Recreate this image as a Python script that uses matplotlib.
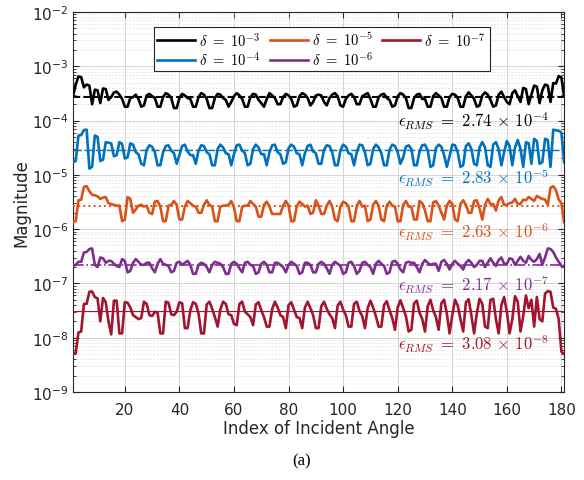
import numpy as np
import matplotlib
matplotlib.use("Agg")
import matplotlib.pyplot as plt
import matplotlib.ticker as ticker
from matplotlib.font_manager import FontProperties

# Error magnitude against incident-angle index (1..181) for each step size delta.
# Each list is written in units of the matching entry in `scales`.
err_d3 = [
    2.8, 4.6, 6.5, 6.3, 4.1, 4.6, 4.4, 2.0, 3.7, 3.6,
    2.1, 3.9, 3.8, 2.4, 2.7, 3.3, 3.4, 3.0, 2.5, 1.8,
    1.8, 2.6, 2.7, 3.0, 2.5, 1.8, 1.9, 2.9, 3.1, 2.8,
    2.6, 1.8, 1.8, 2.7, 3.2, 3.0, 2.6, 1.7, 1.7, 2.6,
    3.1, 2.9, 2.6, 2.5, 1.8, 1.8, 2.7, 3.2, 3.0, 2.5,
    1.7, 1.7, 2.6, 3.1, 3.0, 2.6, 2.4, 1.8, 2.2, 2.8,
    3.2, 2.9, 2.5, 1.8, 1.8, 2.7, 3.1, 3.0, 2.4, 2.1,
    1.8, 2.5, 3.2, 2.9, 2.6, 2.0, 2.0, 2.7, 3.1, 2.9,
    2.5, 1.8, 1.9, 2.8, 3.2, 3.0, 2.6, 1.9, 2.2, 2.9,
    3.0, 2.9, 2.2, 1.9, 2.6, 3.0, 3.2, 2.8, 1.9, 1.8,
    2.5, 2.9, 3.1, 2.7, 2.0, 2.0, 2.8, 3.0, 3.2, 2.5,
    1.8, 1.8, 2.7, 3.0, 3.1, 2.6, 2.4, 1.8, 1.9, 2.8,
    3.2, 3.0, 2.6, 1.7, 1.7, 2.6, 3.0, 3.1, 2.5, 2.5,
    1.8, 1.8, 2.8, 3.2, 2.9, 2.6, 1.8, 1.8, 2.7, 3.1,
    3.0, 2.6, 1.8, 1.8, 2.8, 3.3, 2.9, 2.5, 1.8, 1.9,
    2.9, 3.3, 3.0, 2.4, 1.8, 1.9, 3.0, 3.4, 2.7, 2.2,
    2.0, 3.2, 3.6, 2.8, 2.2, 4.0, 3.8, 2.0, 3.0, 4.4,
    4.2, 2.1, 3.6, 4.6, 4.4, 2.2, 4.9, 4.8, 6.6, 6.2, 2.8,
]
err_d4 = [
    1.7, 1.8, 5.3, 5.4, 6.7, 6.8, 1.3, 1.4, 5.3, 5.0,
    1.8, 1.9, 4.0, 3.9, 3.8, 2.2, 2.3, 4.0, 3.7, 2.0,
    2.1, 3.8, 3.6, 2.6, 2.4, 1.6, 1.5, 2.9, 3.5, 3.3,
    2.6, 1.5, 1.5, 2.6, 3.4, 3.5, 2.8, 2.5, 1.6, 2.3,
    3.4, 3.6, 2.7, 2.3, 2.3, 1.6, 2.8, 3.5, 3.4, 2.6,
    2.4, 1.5, 1.5, 3.0, 3.6, 3.2, 2.5, 2.4, 1.5, 2.4,
    3.5, 3.6, 2.8, 2.5, 1.5, 1.6, 3.0, 3.6, 3.2, 2.4,
    2.4, 1.5, 2.6, 3.5, 3.6, 2.6, 2.4, 1.6, 1.7, 3.1,
    3.6, 3.3, 2.5, 2.4, 1.5, 2.5, 3.4, 3.6, 2.7, 2.5,
    1.6, 1.6, 2.9, 3.5, 3.4, 2.6, 1.5, 1.5, 2.8, 3.6,
    3.3, 2.5, 2.4, 1.5, 2.6, 3.6, 3.5, 2.6, 1.5, 1.6,
    3.0, 3.6, 3.2, 2.5, 1.5, 1.5, 2.9, 3.6, 3.4, 2.6,
    1.6, 2.1, 3.3, 3.5, 3.0, 1.5, 1.5, 2.7, 3.5, 3.6,
    2.8, 1.4, 1.5, 3.1, 3.6, 3.3, 2.3, 1.4, 2.2, 3.6,
    3.5, 2.6, 1.4, 1.5, 3.4, 3.8, 3.0, 1.6, 1.5, 3.2,
    4.0, 3.2, 1.5, 1.4, 3.6, 4.0, 3.0, 1.5, 2.6, 4.2,
    3.4, 1.5, 3.2, 4.4, 3.0, 1.4, 4.0, 3.8, 1.6, 4.6,
    4.2, 1.6, 1.7, 4.6, 4.4, 1.4, 6.8, 6.6, 6.5, 6.0, 1.7,
]
err_d5 = [
    1.35, 1.4, 3.4, 3.5, 6.0, 6.2, 5.0, 4.3, 4.2, 4.0,
    3.6, 3.8, 3.9, 3.0, 2.9, 2.8, 2.7, 2.7, 1.4, 1.5,
    3.9, 3.6, 2.0, 2.3, 2.7, 2.8, 2.6, 2.7, 2.0, 1.9,
    3.2, 3.3, 2.6, 1.4, 1.4, 2.7, 2.8, 3.3, 2.8, 1.5,
    1.5, 2.6, 3.3, 3.0, 2.7, 2.6, 2.0, 2.0, 2.8, 3.4,
    2.8, 2.6, 1.4, 1.4, 2.6, 2.7, 2.7, 2.8, 3.3, 2.5,
    1.4, 1.4, 2.6, 2.7, 2.7, 3.3, 2.9, 2.6, 1.7, 1.7,
    2.8, 3.2, 2.6, 1.9, 1.9, 1.9, 1.9, 2.7, 3.3, 2.7,
    1.4, 1.4, 2.6, 3.2, 2.9, 2.6, 2.7, 1.9, 2.0, 3.4,
    2.7, 1.9, 1.9, 2.7, 3.3, 2.6, 1.5, 1.4, 2.6, 3.2,
    3.0, 2.6, 1.4, 1.4, 2.7, 3.3, 2.6, 2.7, 1.4, 1.5,
    2.8, 3.3, 2.7, 1.5, 1.4, 2.7, 3.2, 2.7, 2.6, 1.4,
    1.4, 2.8, 3.3, 2.6, 2.6, 1.5, 1.5, 3.3, 3.0, 2.2,
    1.4, 1.4, 3.1, 3.3, 2.7, 2.0, 1.5, 2.7, 3.3, 2.9,
    1.5, 1.4, 2.9, 3.4, 2.8, 2.0, 2.0, 3.3, 3.4, 2.4,
    1.5, 2.8, 3.6, 2.9, 2.9, 2.2, 3.4, 3.9, 2.8, 2.8,
    3.0, 3.1, 3.6, 2.9, 2.9, 3.5, 3.4, 3.9, 3.6, 3.3,
    4.1, 3.8, 3.6, 3.5, 2.8, 5.8, 6.2, 5.2, 3.5, 3.0, 1.35,
]
err_d6 = [
    2.1, 2.2, 2.5, 2.5, 3.7, 3.8, 4.3, 4.4, 2.2, 2.0,
    3.0, 2.9, 2.4, 2.6, 2.6, 2.3, 2.1, 2.0, 2.8, 2.6,
    1.6, 1.7, 2.4, 2.8, 2.5, 2.2, 2.2, 2.4, 2.4, 1.9,
    1.6, 2.3, 2.8, 2.3, 2.2, 2.1, 1.6, 1.7, 2.4, 2.5,
    2.2, 2.4, 2.6, 2.2, 1.5, 1.5, 2.2, 2.4, 2.3, 2.0,
    1.6, 2.2, 2.5, 2.4, 2.3, 2.0, 1.5, 1.5, 2.3, 2.5,
    2.3, 1.9, 1.6, 2.4, 2.5, 2.2, 2.1, 1.5, 1.6, 2.3,
    2.5, 2.2, 1.6, 1.6, 2.4, 2.4, 2.2, 2.0, 1.6, 2.2,
    2.5, 2.3, 2.1, 1.5, 1.6, 2.4, 2.4, 2.2, 1.6, 1.6,
    2.3, 2.5, 2.3, 1.9, 1.5, 2.2, 2.5, 2.3, 2.1, 1.5,
    1.6, 2.4, 2.5, 2.1, 1.5, 1.7, 2.4, 2.5, 2.2, 2.0,
    1.5, 2.3, 2.6, 2.3, 2.1, 1.5, 1.6, 2.5, 2.6, 2.3,
    1.8, 1.6, 2.4, 2.5, 2.4, 2.4, 2.0, 1.6, 2.3, 2.7,
    2.4, 2.2, 2.3, 2.3, 1.7, 2.5, 2.7, 2.3, 1.8, 2.3,
    2.6, 2.3, 2.1, 1.8, 2.4, 2.7, 2.4, 2.0, 2.2, 2.6,
    2.6, 2.0, 2.4, 2.9, 2.4, 2.1, 2.7, 3.0, 2.3, 2.3,
    2.9, 2.8, 2.2, 2.6, 3.1, 2.6, 2.4, 3.2, 2.7, 2.5,
    2.8, 3.5, 2.2, 3.0, 4.4, 4.3, 3.8, 3.0, 2.5, 2.1, 2.0,
]
err_d7 = [
    0.50, 0.52, 1.25, 1.3, 4.2, 4.2, 7.0, 7.1, 5.6, 5.3,
    2.0, 5.4, 4.5, 2.0, 1.15, 4.8, 4.8, 1.2, 1.2, 4.5,
    4.4, 3.6, 2.6, 2.4, 2.2, 2.3, 4.6, 4.2, 2.6, 2.5,
    3.0, 2.9, 1.2, 1.2, 4.6, 4.4, 2.7, 2.6, 3.0, 4.5,
    4.3, 1.5, 1.5, 3.2, 4.5, 4.2, 2.8, 1.2, 1.2, 4.1,
    4.6, 3.4, 2.4, 1.6, 3.3, 4.6, 4.2, 2.7, 2.6, 1.8,
    1.7, 4.2, 4.6, 3.0, 2.7, 2.4, 1.7, 4.1, 4.5, 3.2,
    2.4, 1.6, 1.6, 3.4, 4.6, 3.6, 2.6, 2.4, 1.5, 4.0,
    4.5, 3.3, 2.4, 2.3, 1.5, 3.6, 4.6, 3.5, 2.6, 1.5,
    1.5, 3.8, 4.6, 3.4, 2.7, 2.3, 1.5, 3.9, 4.6, 3.3,
    2.6, 1.6, 1.6, 4.2, 4.6, 3.1, 2.5, 1.5, 3.5, 4.8,
    3.6, 2.5, 1.6, 1.6, 4.0, 4.7, 3.2, 2.3, 1.4, 3.6,
    4.9, 3.5, 2.5, 1.3, 1.4, 4.3, 4.8, 2.9, 2.2, 1.3,
    3.8, 5.0, 3.2, 2.4, 1.4, 4.3, 5.0, 2.8, 1.2, 2.6,
    5.0, 3.9, 2.2, 1.3, 4.5, 5.1, 2.6, 1.2, 2.8, 5.2,
    4.2, 1.6, 1.5, 5.0, 5.2, 2.2, 1.2, 4.0, 5.6, 3.0,
    1.2, 2.2, 5.8, 4.6, 1.3, 2.5, 6.0, 3.5, 5.0, 1.6,
    5.6, 2.2, 2.0, 6.5, 7.2, 7.0, 3.6, 3.4, 2.2, 0.55, 0.50,
]
scales = [1e-4, 1e-5, 1e-6, 1e-7, 1e-8]
delta_exp = [-3, -4, -5, -6, -7]

# RMS error of each curve (mantissa, exponent)
rms_mant = [2.74, 2.83, 2.63, 2.17, 3.08]
rms_exp = [-4, -5, -6, -7, -8]

colors = ['#000000', '#0072BD', '#D95319', '#7E2F8E', '#A2142F']
rms_styles = ['--', (0, (6, 2)), ':', '-.', '-']
rms_widths = [1.4, 1.0, 1.4, 1.2, 0.8]
# where the RMS text sits (right edge x index, y magnitude)
label_pos = [(175.5, 1.0e-4), (175.5, 9.2e-6), (175.5, 9.3e-7), (175.5, 9.8e-8), (175.5, 7.8e-9)]

series = [err_d3, err_d4, err_d5, err_d6, err_d7]
for s in series:
    assert len(s) == 181, len(s)

fig = plt.figure(figsize=(5.84, 4.81), dpi=100)
ax = fig.add_axes([0.125, 0.183, 0.841, 0.790])

idx = np.arange(1, 182)
cm_small = FontProperties(size=10.5, math_fontfamily='cm')
cm_label = FontProperties(size=12, math_fontfamily='cm')

for vals, sc, de, col in zip(series, scales, delta_exp, colors):
    ax.plot(idx, np.array(vals) * sc, color=col, lw=1.9,
            label=rf'$\delta\ =\ 10^{{{de}}}$', zorder=3)

for m, e, col, ls, lw, (tx, ty) in zip(rms_mant, rms_exp, colors, rms_styles,
                                        rms_widths, label_pos):
    ax.axhline(m * 10.0 ** e, color=col, ls=ls, lw=lw, zorder=4)
    ax.text(tx, ty, rf'$\epsilon_{{RMS}}\ =\ {m:.2f}\,\times\,10^{{{e}}}$',
            color=col, ha='right', va='center', fontproperties=cm_label)

ax.set_yscale('log')
ax.set_ylim(1e-9, 1e-2)
ax.set_xlim(1, 181)
ax.set_xticks(np.arange(20, 181, 20))
ax.yaxis.set_major_locator(ticker.LogLocator(base=10, numticks=10))
ax.yaxis.set_minor_locator(ticker.LogLocator(base=10, subs=np.arange(2, 10), numticks=20))

ax.grid(True, which='major', color='#d4d4d4', lw=0.7, zorder=0)
ax.grid(True, which='minor', axis='y', color='#e0e0e0', lw=0.5, ls=(0, (3, 2)), zorder=0)
ax.set_axisbelow(True)

ax.tick_params(which='both', direction='in', top=True, right=True,
               colors='#262626', labelsize=11)
ax.tick_params(which='major', length=4)
ax.tick_params(axis='x', which='major', pad=7)
ax.tick_params(which='minor', length=2)
for sp in ax.spines.values():
    sp.set_color('#262626')
    sp.set_linewidth(0.8)

ax.set_xlabel('Index of Incident Angle', fontsize=12, color='#262626', labelpad=2)
ax.set_ylabel('Magnitude', fontsize=12, color='#262626', labelpad=1)

leg = ax.legend(ncol=3, loc='upper center', bbox_to_anchor=(0.506, 0.98),
                prop=cm_small, handlelength=2.6, handletextpad=0.3,
                columnspacing=0.6, labelspacing=0.1, borderpad=0.25,
                fancybox=False, framealpha=1, edgecolor='#262626')
leg.get_frame().set_linewidth(0.8)

fig.text(0.517, 0.04, '(a)', ha='center', va='center',
         family='Liberation Serif', fontsize=12)

fig.savefig('out.png', dpi=100)
